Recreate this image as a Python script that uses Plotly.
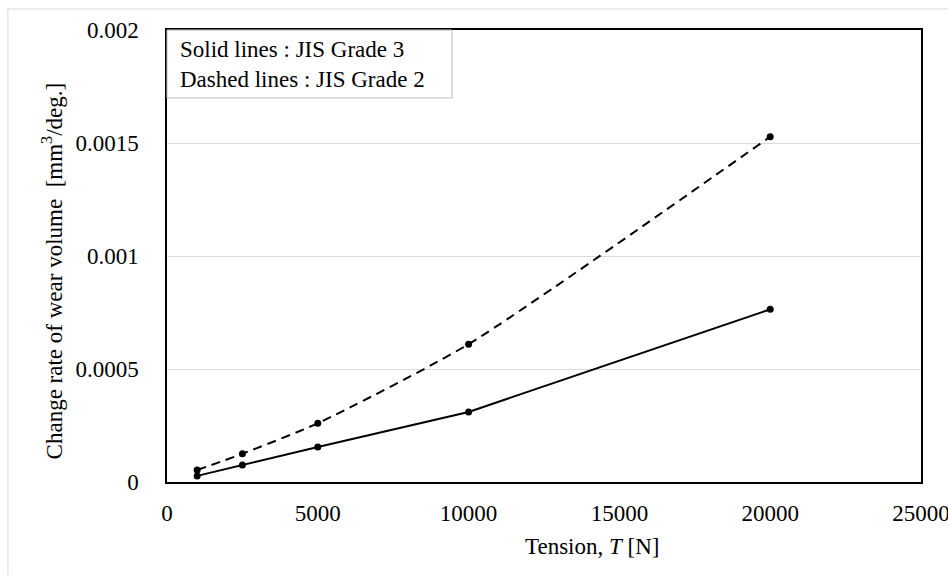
import plotly.graph_objects as go

# Tension values [N]
tension = [1000, 2500, 5000, 10000, 20000]
# Change rate of wear volume [mm^3/deg.]
grade3_rate = [0.000027, 0.000075, 0.000155, 0.00031, 0.000764]
grade2_rate = [0.000053, 0.000125, 0.00026, 0.00061, 0.001528]

x_ticks = [0, 5000, 10000, 15000, 20000, 25000]
x_tick_text = ["0", "5000", "10000", "15000", "20000", "25000"]
y_ticks = [0, 0.0005, 0.001, 0.0015, 0.002]
y_tick_text = ["0", "0.0005", "0.001", "0.0015", "0.002"]

FONT = "Liberation Serif, Times New Roman, serif"
FS = 23

fig = go.Figure()

fig.add_trace(go.Scatter(
    x=tension, y=grade2_rate, mode="lines+markers",
    line=dict(color="black", width=2, dash="9px,6px", shape="spline", smoothing=0.6),
    marker=dict(color="black", size=7),
    name="JIS Grade 2", showlegend=False,
))
fig.add_trace(go.Scatter(
    x=tension, y=grade3_rate, mode="lines+markers",
    line=dict(color="black", width=2),
    marker=dict(color="black", size=7),
    name="JIS Grade 3", showlegend=False,
))

fig.update_xaxes(
    range=[0, 25000], tickvals=x_ticks, ticktext=x_tick_text, showgrid=False,
    showline=True, linecolor="black", linewidth=1.5, mirror=True,
    ticks="", zeroline=False, ticklabelstandoff=10, automargin=False,
    ticklabeloverflow="allow",
    tickfont=dict(family=FONT, size=FS, color="black"),
)
fig.update_yaxes(
    range=[0, 0.002], tickvals=y_ticks, ticktext=y_tick_text,
    showgrid=True, gridcolor="#d9d9d9", gridwidth=1,
    showline=True, linecolor="black", linewidth=1.5, mirror=True,
    ticks="", zeroline=False, ticklabelstandoff=22, automargin=False,
    ticklabeloverflow="allow",
    tickfont=dict(family=FONT, size=FS, color="black"),
)

# Axis titles
fig.add_annotation(
    xref="paper", yref="paper", x=0.5637, y=-0.1438,
    xanchor="center", yanchor="middle", showarrow=False,
    text="Tension, <i>T</i> [N]", font=dict(family=FONT, size=FS, color="black"),
)
fig.add_annotation(
    xref="paper", yref="paper", x=-0.152, y=0.4668,
    xanchor="center", yanchor="middle", showarrow=False, textangle=-90,
    text="Change rate of wear volume \u00a0[mm<sup>3</sup>/deg.]",
    font=dict(family=FONT, size=FS, color="black"),
)

# Note box in the upper-left corner of the plot area
fig.add_shape(type="rect", xref="paper", yref="paper",
              x0=0.0, x1=0.378, y0=0.8496, y1=1.0,
              line=dict(color="#bfbfbf", width=1), fillcolor="white", layer="above")
fig.add_annotation(
    xref="paper", yref="paper", x=0.015, y=0.9226, xanchor="left", yanchor="middle",
    text="Solid lines : JIS Grade 3<br>Dashed lines : JIS Grade 2",
    showarrow=False, align="left",
    font=dict(family=FONT, size=FS, color="black"),
)

# Outer chart frame
fig.add_shape(type="rect", xref="paper", yref="paper",
              x0=-0.211, x1=1.05, y0=-0.21, y1=1.0465,
              line=dict(color="#d9d9d9", width=1), fillcolor="rgba(0,0,0,0)", layer="below")

fig.update_layout(
    width=948, height=575,
    margin=dict(l=167, r=27, t=30, b=93),
    paper_bgcolor="white", plot_bgcolor="white",
    font=dict(family=FONT, size=FS, color="black"),
)

fig.write_html("out.html")
